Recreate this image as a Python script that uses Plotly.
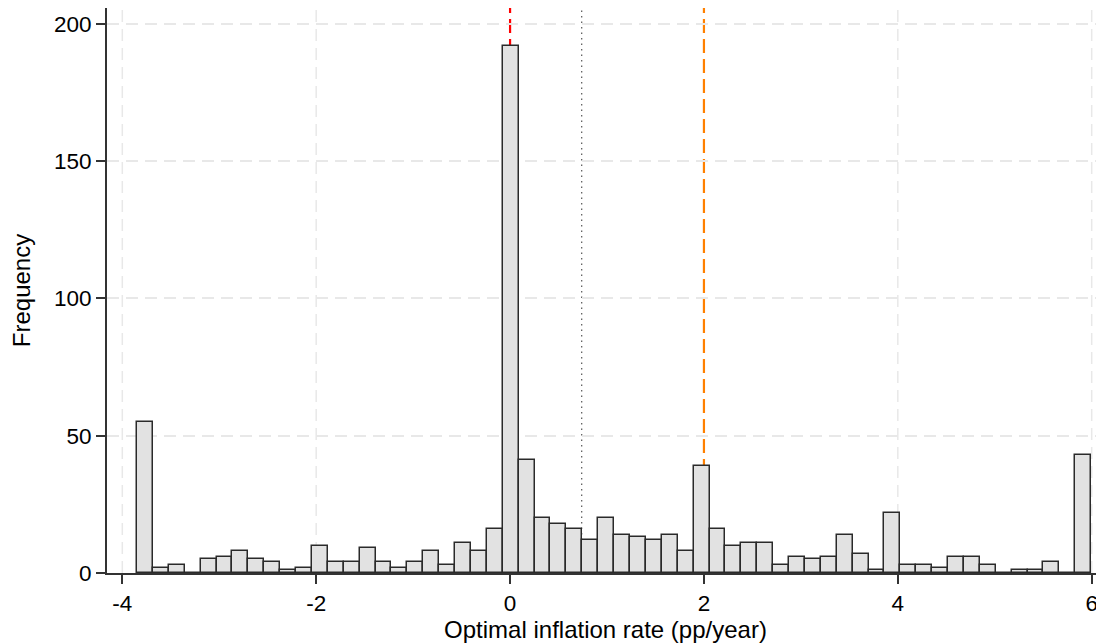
import plotly.graph_objects as go

# Histogram of optimal inflation rates (60 equal-width bins)
bin_start = -3.848
bin_width = 0.16404
counts = [55, 2, 3, 0, 5, 6, 8, 5, 4, 1,
          2, 10, 4, 4, 9, 4, 2, 4, 8, 3,
          11, 8, 16, 192, 41, 20, 18, 16, 12, 20,
          14, 13, 12, 14, 8, 39, 16, 10, 11, 11,
          3, 6, 5, 6, 14, 7, 1, 22, 3, 3,
          2, 6, 6, 3, 0, 1, 1, 4, 0, 43]
centers = [bin_start + (i + 0.5) * bin_width for i in range(len(counts))]

# Reference lines
red_line_x = 0.0
dotted_line_x = 0.739
orange_line_x = 2.0

x_ticks = [-4, -2, 0, 2, 4, 6]
x_grid = [-4, -2, 4, 6]   # ticks whose grid line is not covered by a reference line
y_ticks = [0, 50, 100, 150, 200]

fig = go.Figure()
fig.add_trace(go.Bar(
    x=centers, y=counts, width=bin_width,
    marker=dict(color="#e2e2e2", line=dict(color="#2a2a2a", width=1.5)),
    showlegend=False, hoverinfo="x+y",
))

grid_line = dict(color="#e8e8e8", width=1.5, dash="12px,7px")
for gx in x_grid:
    fig.add_shape(type="line", xref="x", yref="paper", x0=gx, x1=gx, y0=0, y1=1,
                  layer="below", line=grid_line)

shape_common = dict(type="line", xref="x", yref="paper", y0=0, y1=1, layer="between")
fig.add_shape(x0=red_line_x, x1=red_line_x,
              line=dict(color="#ff0000", width=2.2, dash="14px,6px"), **shape_common)
fig.add_shape(x0=dotted_line_x, x1=dotted_line_x,
              line=dict(color="#555555", width=1.2, dash="1.5px,4px"), **shape_common)
fig.add_shape(x0=orange_line_x, x1=orange_line_x,
              line=dict(color="#ff8000", width=2.2, dash="14px,6px"), **shape_common)

font_family = "Liberation Sans, Arial, sans-serif"
fig.update_layout(
    width=1096, height=635,
    margin=dict(l=99, r=0, t=0, b=70),
    paper_bgcolor="white", plot_bgcolor="white",
    font=dict(family=font_family, size=22, color="#000000"),
    bargap=0,
    xaxis=dict(
        range=[-4.158, 6.127], tickvals=x_ticks, ticktext=[str(v) for v in x_ticks],
        showline=True, linecolor="#333333", linewidth=2,
        ticks="outside", ticklen=9, tickwidth=2, tickcolor="#333333",
        showgrid=False, zeroline=False,
        tickfont=dict(size=22.5),
        title=dict(text="Optimal inflation rate (pp/year)", font=dict(size=24), standoff=6),
    ),
    yaxis=dict(
        range=[0, 205.8], tickvals=y_ticks, ticktext=[str(v) for v in y_ticks],
        showline=True, linecolor="#333333", linewidth=2,
        ticks="outside", ticklen=9, tickwidth=2, tickcolor="#333333",
        showgrid=True, gridcolor="#e8e8e8", gridwidth=1.5, griddash="12px,7px",
        zeroline=False,
        tickfont=dict(size=22.5),
        title=dict(text="Frequency", font=dict(size=24), standoff=20),
    ),
)

fig.write_html("out.html")
